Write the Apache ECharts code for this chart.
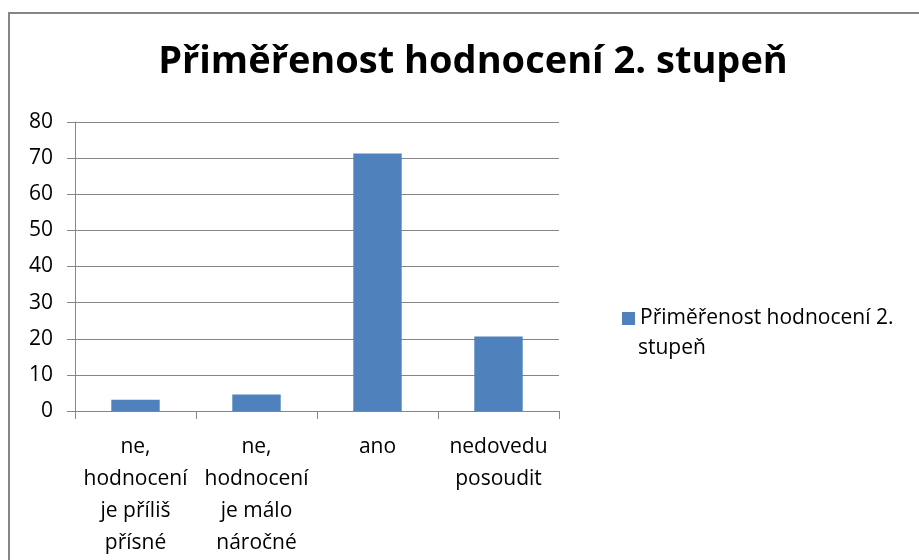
<!DOCTYPE html>
<html>
	<head>
		<meta charset="utf-8">
		<title>Přiměřenost hodnocení 2. stupeň</title>
		<style type="text/css">
			html, body {
				margin: 0;
				padding: 0;
				background: #fff;
			}

			#chart {
				width: 919px;
				height: 560px;
			}
		</style>
	</head>
	<body>
		<div id="chart"></div>

		<script src="https://cdn.jsdelivr.net/npm/echarts@6/dist/echarts.min.js"></script>
		<script>
			// 数据
			var categories = ['ne,\nhodnocení\nje příliš\npřísné', 'ne,\nhodnocení\nje málo\nnáročné', 'ano', 'nedovedu\nposoudit'];
			var values = [3.1, 4.6, 71.3, 20.6];
			var seriesName = 'Přiměřenost hodnocení 2. stupeň';
			var legendLines = ['Přiměřenost hodnocení 2.', 'stupeň'];
			var yTicks = [0, 80, 10];

			var font = '"Open Sans", sans-serif';
			var myChart = echarts.init(document.getElementById('chart'));

			var option = {
				animation: false,
				color: ['#4F81BD'],
				title: {
					text: seriesName,
					left: 468,
					textAlign: 'center',
					top: 38,
					textStyle: {
						fontFamily: font,
						fontSize: 38,
						fontWeight: 'bold',
						color: '#000'
					}
				},
				// 图例：第一行跟方块对齐，第二行另外画
				legend: {
					left: 617,
					top: 303,
					icon: 'rect',
					itemWidth: 13,
					itemHeight: 13,
					formatter: function () {
						return legendLines[0];
					},
					textStyle: {
						fontFamily: font,
						fontSize: 21,
						color: '#000'
					}
				},
				graphic: [{
					type: 'rect',
					shape: { x: 9, y: 13, width: 1000, height: 600 },
					style: { fill: 'none', stroke: '#868686', lineWidth: 2 }
				}, {
					type: 'text',
					left: 638,
					top: 338,
					style: {
						text: legendLines[1],
						fontFamily: font,
						fontSize: 21,
						fill: '#000'
					}
				}],
				grid: {
					left: 75,
					right: 360,
					top: 122,
					bottom: 149
				},
				xAxis: {
					type: 'category',
					data: categories,
					axisLine: { lineStyle: { color: '#868686', width: 1 } },
					axisTick: { show: true, length: 8, lineStyle: { color: '#868686' } },
					axisLabel: {
						margin: 20,
						interval: 0,
						fontFamily: font,
						fontSize: 21,
						lineHeight: 32,
						color: '#000',
						align: 'center'
					}
				},
				yAxis: {
					type: 'value',
					min: yTicks[0],
					max: yTicks[1],
					interval: yTicks[2],
					axisLine: { show: true, lineStyle: { color: '#868686' } },
					axisTick: { show: true, inside: false, length: 8, lineStyle: { color: '#868686' } },
					axisLabel: {
						margin: 22,
						fontFamily: font,
						fontSize: 21,
						color: '#000'
					},
					splitLine: { lineStyle: { color: '#868686', width: 1 } }
				},
				series: [{
					name: seriesName,
					type: 'bar',
					barCategoryGap: '60%',
					data: values
				}]
			};

			myChart.setOption(option);
		</script>
	</body>
</html>
